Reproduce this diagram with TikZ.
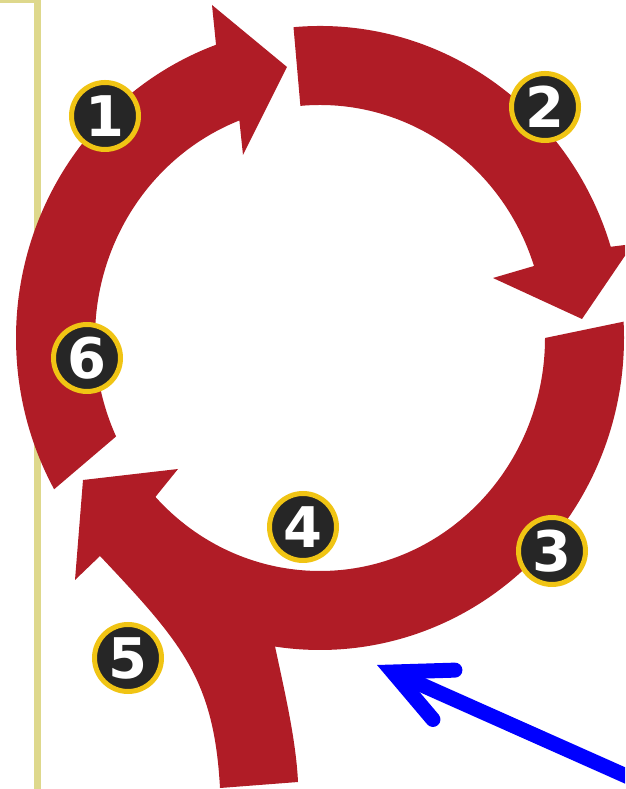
\documentclass[tikz,border=0pt]{standalone}
\usepackage{fontspec}
\newfontfamily\labelfont{DejaVu Sans}
\usetikzlibrary{arrows.meta, calc}

\definecolor{ringred}{RGB}{176,28,38}
\definecolor{framekhaki}{RGB}{222,216,140}
\definecolor{stepblack}{RGB}{38,38,38}
\definecolor{stepgold}{RGB}{240,196,20}

\begin{document}
\begin{tikzpicture}[
    x=1pt, y=1pt,
    ring/.style = {fill=ringred},
    ringout/.style = {x radius=304, y radius=312},
    ringin/.style = {x radius=225, y radius=233},
    stepnum/.style = {
        circle, fill=stepblack, draw=stepgold, line width=5pt,
        minimum size=67pt, inner sep=0pt, text=white,
        font=\labelfont\bfseries\fontsize{56}{56}\selectfont
    },
    pointer/.style = {-{Straight Barb[length=56pt, width=54pt, line cap=round, line join=miter]},
        line width=15pt, draw=blue},
]
\useasboundingbox (0,0) rectangle (625,789);
\clip (0,0) rectangle (625,789);

%% -- frame edge on the left ---------------------------------------------
\draw[framekhaki, line width=7pt] (-10,789) -- (37,789) -- (37,-10);

%% -- ring centre ----------------------------------------------------------
\coordinate (C) at (320,451);

%% Left arc (steps 6 -> 1), head at the top
\fill[ring] ($(C)+(209:304 and 312)$) arc[start angle=209, end angle=110, ringout]
  -- (212,784) -- (287,722) -- (243,634)
  -- ($(C)+(111:225 and 233)$) arc[start angle=111, end angle=205, ringin] -- cycle;

%% Right arc (step 2), head on the right
\fill[ring] ($(C)+(95:304 and 312)$) arc[start angle=95, end angle=17, ringout]
  -- (633,545) -- (582,470) -- (493,511)
  -- ($(C)+(18:225 and 233)$) arc[start angle=18, end angle=95, ringin] -- cycle;

%% Bottom arc (steps 3, 4) joined by the stem (step 5), head lower left
\fill[ring] ($(C)+(3:304 and 312)$) arc[start angle=3, end angle=-98.5, ringout]
  .. controls (284,100) and (296,50) .. (298,7)
  -- (220,1)
  .. controls (214,110) and (182,146) .. (100,233)
  -- (75,209) -- (83,309) -- (178,320)
  -- ($(C)+(223:225 and 233)$) arc[start angle=223, end angle=360, ringin] -- cycle;

%% -- step numbers ---------------------------------------------------------
\node[stepnum] (n1) at (105,673) {1};
\node[stepnum] (n2) at (545,682) {2};
\node[stepnum] (n3) at (552,238) {3};
\node[stepnum] (n4) at (303,262) {4};
\node[stepnum] (n5) at (128,131) {5};
\node[stepnum] (n6) at (87,431)  {6};

%% -- blue pointer ---------------------------------------------------------
\coordinate (ptail) at (660,-2);
\coordinate (ptip)  at (377,124);
\draw[pointer] (ptail) -- (ptip);

\end{tikzpicture}
\end{document}
